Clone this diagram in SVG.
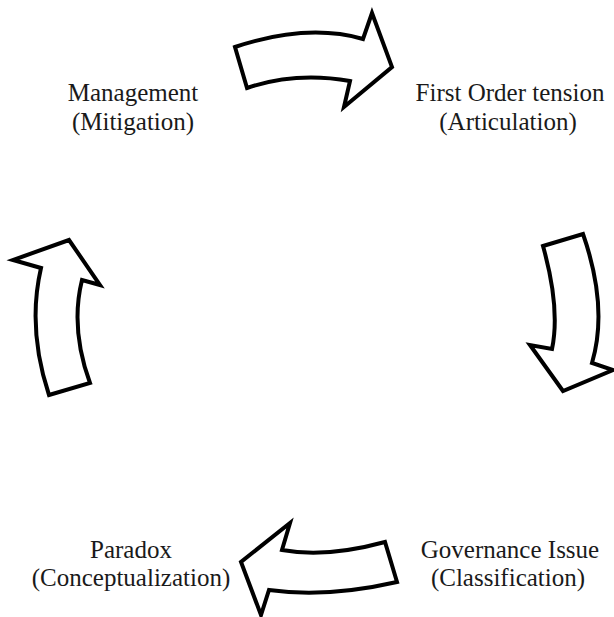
<svg xmlns="http://www.w3.org/2000/svg" width="614" height="617" viewBox="0 0 614 617">
<style>
.arrow{fill:#fff;stroke:#000;stroke-width:4;stroke-linejoin:miter}
.lbl{font-family:"Liberation Serif","Times New Roman",serif;font-size:25px;fill:#1a1a1a;text-anchor:middle}
</style>
<rect width="614" height="617" fill="#fff"/>
<g id="connectors">
<path id="arrow-top" class="arrow" d="M235,47 Q307,23 363,39 L372,13 L392,67 L344,107 L350,81 Q295.5,71.5 247,88 Z"/>
<path id="arrow-right" class="arrow" d="M543,246 L583,234 Q608.5,307.5 592,363 L613,370 L563,391 L530,345 L552,349 Q560.5,308.5 543,246 Z"/>
<path id="arrow-bottom" class="arrow" d="M385,542 Q326.5,558 282,550 L290,523 L241,562 L261,615 L269,590 Q327,598 397,582 Z"/>
<path id="arrow-left" class="arrow" d="M49,395 L90,383 Q70,328.5 82,280 L100,285 L69,240 L13,260 L41,268 Q27,328.5 49,395 Z"/>
</g>
<g id="node-management">
<text class="lbl" x="133" y="101">Management</text>
<text class="lbl" x="133" y="130">(Mitigation)</text>
</g>
<g id="node-first-order">
<text class="lbl" x="510" y="101">First Order tension</text>
<text class="lbl" x="508" y="130">(Articulation)</text>
</g>
<g id="node-governance">
<text class="lbl" x="510" y="558">Governance Issue</text>
<text class="lbl" x="508" y="586">(Classification)</text>
</g>
<g id="node-paradox">
<text class="lbl" x="131" y="558">Paradox</text>
<text class="lbl" x="131" y="586">(Conceptualization)</text>
</g>
</svg>
